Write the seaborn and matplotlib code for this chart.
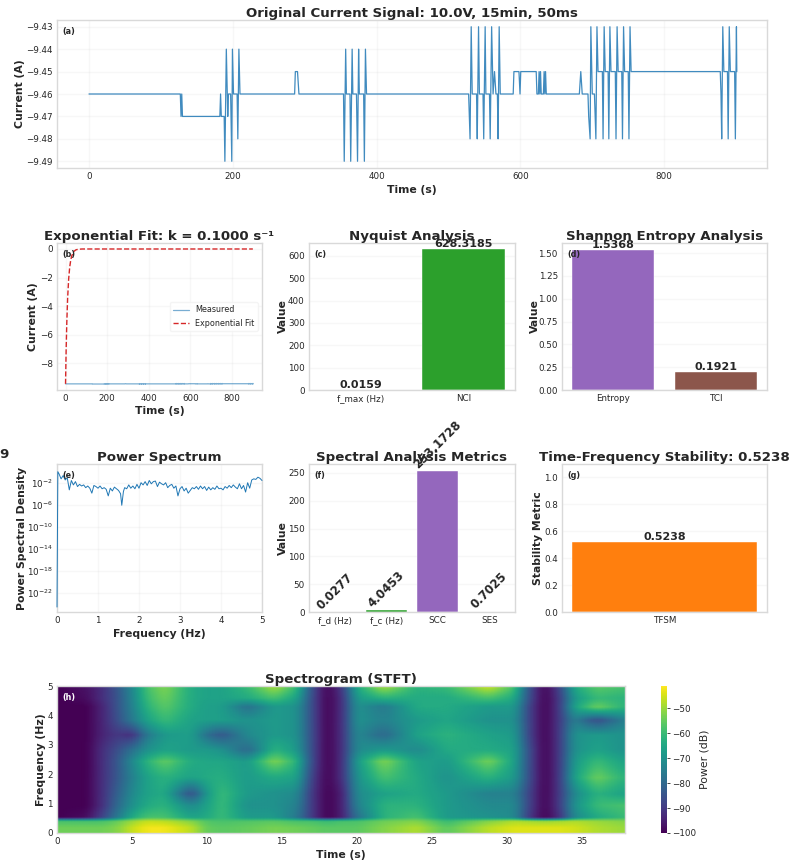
import numpy as np
import matplotlib
matplotlib.use('Agg')
import matplotlib.pyplot as plt
import seaborn as sns

# Signal, same grouping in both lists
time_s = [0, 127, 128, 129, 130, 182, 183, 184, 188, 189, 191, 193, 194, 197, 198.6, 199.5, 201, 206, 207, 208.5, 210,
          286, 287, 290, 292,
          354, 355, 357, 358, 363, 364, 366, 367, 372, 373.5, 375, 376, 382, 383, 384.5, 386,
          528, 530, 531.6, 533, 539, 540, 541.8, 543, 548, 549, 551, 552, 557, 558, 560, 562, 564, 566, 568, 569, 570.5, 572,
          590, 591, 598, 599.5, 600.5, 622, 623, 625, 626, 627, 628, 629, 632, 633, 634, 635, 636,
          682, 684, 686, 694, 695, 697, 698, 700, 703, 705, 706.5, 708,
          714, 715, 716.5, 718, 722, 723, 724.5, 726, 732, 733, 734.5, 736, 741, 742, 743.5, 745, 750, 751, 752.5, 754,
          878, 879, 880, 881.5, 883, 888, 889, 890.5, 892, 898, 899, 900.5, 901]
current_a = [-9.46, -9.46, -9.47, -9.46, -9.47, -9.47, -9.46, -9.47, -9.47, -9.49, -9.44, -9.47, -9.46, -9.46, -9.49, -9.44, -9.46, -9.46, -9.48, -9.44, -9.46,
             -9.46, -9.45, -9.45, -9.46,
             -9.46, -9.49, -9.44, -9.46, -9.46, -9.49, -9.44, -9.46, -9.46, -9.49, -9.44, -9.46, -9.46, -9.49, -9.44, -9.46,
             -9.46, -9.48, -9.43, -9.46, -9.46, -9.48, -9.43, -9.46, -9.46, -9.48, -9.43, -9.46, -9.46, -9.48, -9.43, -9.46, -9.45, -9.46, -9.46, -9.48, -9.43, -9.46,
             -9.46, -9.45, -9.45, -9.46, -9.45, -9.45, -9.46, -9.46, -9.45, -9.46, -9.45, -9.46, -9.46, -9.45, -9.46, -9.45, -9.46,
             -9.46, -9.45, -9.46, -9.46, -9.47, -9.48, -9.43, -9.46, -9.46, -9.48, -9.43, -9.45,
             -9.45, -9.48, -9.43, -9.45, -9.45, -9.48, -9.43, -9.45, -9.45, -9.48, -9.43, -9.45, -9.45, -9.48, -9.43, -9.45, -9.45, -9.48, -9.43, -9.45,
             -9.45, -9.46, -9.48, -9.43, -9.45, -9.45, -9.48, -9.43, -9.45, -9.45, -9.48, -9.43, -9.45]

# Exponential fit, panel (b)
fit_time = [0, 3, 6, 10, 15, 20, 25, 30, 40, 50, 60, 80, 100, 900]
fit_current = [-9.46, -7.0, -5.2, -3.48, -2.11, -1.28, -0.78, -0.47, -0.17, -0.06, -0.02, 0, 0, 0]

# Bars
nyquist_labels = ['f_max (Hz)', 'NCI']
nyquist_values = [0.0159, 628.3185]
entropy_labels = ['Entropy', 'TCI']
entropy_values = [1.5368, 0.1921]
spectral_labels = ['f_d (Hz)', 'f_c (Hz)', 'SCC', 'SES']
spectral_values = [0.0277, 4.0453, 253.1728, 0.7025]
stability_labels = ['TFSM']
stability_values = [0.5238]

# Power spectrum, panel (e), log10 of the density
psd_freq = [0, 0.02, 0.05, 0.1, 0.15, 0.2, 0.25, 0.3, 0.35, 0.4, 0.45, 0.5, 0.55, 0.6, 0.65, 0.7, 0.75, 0.8, 0.85, 0.9,
            0.95, 1.0, 1.05, 1.1, 1.15, 1.2, 1.25, 1.3, 1.35, 1.4, 1.45, 1.5, 1.55, 1.58, 1.62, 1.65, 1.7, 1.75, 1.8, 1.85,
            1.9, 1.95, 2.0, 2.05, 2.1, 2.15, 2.2, 2.25, 2.3, 2.35, 2.4, 2.45, 2.5, 2.55, 2.6, 2.65, 2.7, 2.75, 2.8, 2.85,
            2.9, 2.95, 3.0, 3.05, 3.1, 3.15, 3.2, 3.25, 3.3, 3.35, 3.4, 3.45, 3.5, 3.55, 3.6, 3.65, 3.7, 3.75, 3.8, 3.85,
            3.9, 3.95, 4.0, 4.05, 4.1, 4.15, 4.2, 4.25, 4.3, 4.35, 4.4, 4.45, 4.5, 4.55, 4.6, 4.65, 4.7, 4.75, 4.8, 4.85,
            4.9, 4.95, 5.0]
psd_log = [-24.5, 0.1, -0.3, -1.2, -0.6, -1.4, -1.0, -3.2, -1.5, -2.3, -1.7, -2.6, -2.2, -2.5, -2.3, -2.8, -2.5, -2.9,
           -3.8, -2.4, -2.6, -2.9, -2.5, -3.0, -2.8, -3.1, -4.3, -2.9, -3.4, -2.7, -3.0, -3.3, -3.9, -6.0, -3.5, -2.8,
           -3.0, -2.3, -2.9, -2.5, -3.0, -2.2, -2.9, -1.9, -2.3, -1.7, -2.4, -1.5, -2.1, -1.7, -1.6, -2.6, -1.8, -2.1,
           -2.3, -1.9, -2.8, -2.4, -2.2, -2.9, -2.5, -4.3, -3.0, -2.6, -3.4, -2.9, -3.8, -3.3, -2.8, -3.0, -2.6, -3.1,
           -2.5, -3.0, -2.6, -3.3, -2.7, -3.2, -2.8, -3.1, -2.5, -3.0, -2.9, -3.2, -2.6, -2.9, -2.4, -2.8, -2.3, -2.7,
           -3.0, -2.1, -3.0, -2.4, -3.6, -1.9, -2.9, -1.4, -1.2, -1.3, -0.9, -1.1, -1.5]

# Spectrogram grid, dB
stft_time = [0, 2, 3, 4, 5, 6, 7.2, 9, 10, 11, 12.7, 14.5, 16, 17, 18, 19, 20, 21.8, 24, 26, 28.8, 30.5, 31.5, 32.5, 33.5,
             34.5, 36, 37.87]
stft_freq = [0, 0.2, 0.42, 0.55, 0.95, 1.35, 1.9, 2.45, 2.85, 3.35, 3.85, 4.3, 4.6, 5]
power_0 = [-54, -54, -54, -52, -46, -42, -42, -47, -55, -56, -55, -53, -54, -55, -56, -56, -56, -52, -48, -56, -47, -44,
           -44, -44, -44, -45, -48, -50]
power_1 = [-54, -54, -54, -52, -46, -42, -42, -47, -55, -56, -55, -53, -54, -55, -56, -56, -56, -52, -48, -56, -47, -44,
           -44, -44, -44, -45, -48, -50]
power_2 = [-58, -58, -58, -55, -50, -46, -47, -52, -57, -58, -57, -56, -58, -58, -60, -58, -58, -54, -52, -60, -52, -48,
           -49, -50, -49, -48, -50, -52]
power_3 = [-100, -98, -88, -76, -64, -58, -58, -66, -64, -60, -68, -68, -76, -90, -100, -95, -78, -62, -58, -68, -70, -72,
           -90, -100, -92, -72, -64, -60]
power_4 = [-100, -100, -92, -80, -70, -64, -62, -72, -66, -60, -70, -70, -74, -90, -100, -95, -74, -62, -62, -68, -72, -72,
           -88, -100, -90, -70, -60, -58]
power_5 = [-100, -100, -92, -82, -72, -66, -64, -86, -68, -60, -68, -70, -72, -90, -100, -95, -72, -66, -64, -68, -74, -74,
           -88, -100, -90, -72, -62, -66]
power_6 = [-100, -100, -92, -84, -74, -66, -62, -66, -64, -63, -68, -64, -66, -88, -100, -92, -70, -58, -64, -70, -62, -68,
           -86, -100, -90, -66, -54, -62]
power_7 = [-100, -100, -92, -84, -72, -62, -55, -64, -65, -65, -68, -52, -62, -86, -100, -92, -68, -52, -66, -68, -53, -66,
           -86, -100, -90, -68, -60, -66]
power_8 = [-100, -100, -92, -86, -78, -70, -66, -68, -68, -70, -80, -62, -68, -86, -100, -92, -72, -68, -72, -64, -64, -66,
           -86, -100, -90, -70, -66, -70]
power_9 = [-100, -100, -94, -90, -92, -76, -68, -67, -78, -84, -72, -68, -70, -86, -100, -92, -72, -80, -66, -62, -66, -68,
           -88, -100, -90, -70, -68, -70]
power_10 = [-100, -100, -94, -86, -76, -66, -60, -66, -67, -67, -70, -68, -70, -86, -100, -92, -70, -74, -68, -65, -70, -70,
            -88, -100, -90, -74, -86, -74]
power_11 = [-100, -100, -94, -85, -74, -62, -56, -64, -67, -67, -78, -68, -70, -86, -100, -92, -70, -76, -64, -64, -68, -68,
            -88, -100, -90, -66, -54, -62]
power_12 = [-100, -98, -92, -85, -73, -60, -54, -64, -66, -66, -64, -58, -66, -86, -100, -92, -68, -62, -64, -64, -58, -64,
            -86, -100, -90, -68, -60, -62]
power_13 = [-100, -97, -92, -84, -72, -58, -52, -64, -66, -66, -60, -48, -60, -85, -100, -90, -64, -48, -62, -60, -45, -58,
            -85, -100, -88, -64, -56, -58]

sns.set_theme(style='whitegrid', font='DejaVu Sans')
plt.rcParams.update({'grid.alpha': 0.15, 'axes.edgecolor': '0.85', 'axes.linewidth': 1.0,
                     'xtick.labelsize': 6.3, 'ytick.labelsize': 6.3, 'xtick.major.pad': 3, 'ytick.major.pad': 3,
                     'xtick.major.size': 0, 'ytick.major.size': 0, 'text.color': '0.15'})

W, H = 804, 867
fig = plt.figure(figsize=(W / 100, H / 100), dpi=100)


def make_axes(left, right, top, bottom):
    return fig.add_axes([left / W, 1 - bottom / H, (right - left) / W, (bottom - top) / H])


def dress(ax, title, xlabel, ylabel, tag, tag_color='0.15', xpad=2, ypad=2):
    ax.set_title(title, fontsize=9.6, fontweight='bold', pad=2, color='0.15')
    ax.set_xlabel(xlabel, fontsize=7.8, fontweight='bold', labelpad=xpad)
    ax.set_ylabel(ylabel, fontsize=7.8, fontweight='bold', labelpad=ypad)
    ax.annotate(tag, (0, 1), xycoords='axes fraction', xytext=(4, -8), textcoords='offset points', fontsize=5.8,
                fontweight='bold', color=tag_color, va='center')


def bars(ax, labels, values, colors, rotation=0, size=8):
    sns.barplot(x=labels, y=values, hue=labels, palette=colors, saturation=1, legend=False, ax=ax, width=0.8,
                edgecolor='white', linewidth=0.3)
    for c in ax.containers:
        ax.bar_label(c, fmt='%.4f', fontsize=size, fontweight='bold', rotation=rotation, padding=0, color='0.15')


# (a) original signal
ax = make_axes(57, 767, 20, 168)
sns.lineplot(x=time_s, y=current_a, estimator=None, sort=False, lw=0.9, alpha=0.85, color='tab:blue', ax=ax)
ax.set_xlim(-44.5, 943)
ax.set_ylim(-9.493, -9.427)
ax.set_xticks([0, 200, 400, 600, 800])
ax.set_yticks([-9.49, -9.48, -9.47, -9.46, -9.45, -9.44, -9.43])
dress(ax, 'Original Current Signal: 10.0V, 15min, 50ms', 'Time (s)', 'Current (A)', '(a)', xpad=3, ypad=1)

# (b) exponential fit
ax = make_axes(57, 262, 243, 390)
sns.lineplot(x=time_s, y=current_a, estimator=None, sort=False, lw=0.9, alpha=0.6, color='tab:blue', ax=ax,
             label='Measured')
sns.lineplot(x=fit_time, y=fit_current, estimator=None, sort=False, lw=1, color='tab:red', linestyle='--', ax=ax,
             label='Exponential Fit')
ax.set_xlim(-41, 944)
ax.set_ylim(-9.89, 0.42)
ax.set_xticks([0, 200, 400, 600, 800])
ax.set_yticks([0, -2, -4, -6, -8])
ax.legend(loc='center right', fontsize=5.8, framealpha=0.8, edgecolor='0.95')
dress(ax, 'Exponential Fit: k = 0.1000 s⁻¹', 'Time (s)', 'Current (A)', '(b)', xpad=2, ypad=1)

# (c) nyquist
ax = make_axes(309, 515, 243, 390)
bars(ax, nyquist_labels, nyquist_values, ['tab:blue', 'tab:green'])
ax.set_ylim(0, 657)
dress(ax, 'Nyquist Analysis', '', 'Value', '(c)', ypad=0)

# (d) entropy
ax = make_axes(562, 767, 243, 390)
bars(ax, entropy_labels, entropy_values, ['tab:purple', 'tab:brown'])
ax.set_ylim(0, 1.61)
ax.set_yticks([0, 0.25, 0.5, 0.75, 1.0, 1.25, 1.5])
dress(ax, 'Shannon Entropy Analysis', '', 'Value', '(d)', ypad=-1)

# (e) power spectrum
ax = make_axes(57, 262, 464, 612)
psd_line = sns.lineplot(x=psd_freq, y=10.0 ** np.array(psd_log), estimator=None, sort=False, lw=0.7, color='tab:blue', ax=ax)
psd_line.get_lines()[0].set_clip_on(False)
psd_line.get_lines()[0].set_zorder(3)
ax.set_yscale('log')
ax.set_xlim(0, 5)
ax.set_ylim(10.0 ** -25.4, 10.0 ** 1.5)
ax.set_yticks([1e-2, 1e-6, 1e-10, 1e-14, 1e-18, 1e-22])
ax.minorticks_off()
dress(ax, 'Power Spectrum', 'Frequency (Hz)', 'Power Spectral Density', '(e)', xpad=3, ypad=0)

# (f) spectral metrics
ax = make_axes(309, 515, 464, 612)
bars(ax, spectral_labels, spectral_values, ['tab:blue', 'tab:green', 'tab:purple', 'tab:brown'], rotation=45, size=8.5)
ax.set_ylim(0, 266)
dress(ax, 'Spectral Analysis Metrics', '', 'Value', '(f)', ypad=0)

# (g) stability
ax = make_axes(562, 767, 464, 612)
bars(ax, stability_labels, stability_values, ['tab:orange'])
ax.set_xlim(-0.444, 0.444)
ax.set_ylim(0, 1.1)
dress(ax, 'Time-Frequency Stability: 0.5238', '', 'Stability Metric', '(g)', ypad=1)

# (h) spectrogram, the read-off grid resampled so it looks as soft as the original
ax = make_axes(57, 625, 686, 833)
stft_power = np.array([power_0, power_1, power_2, power_3, power_4, power_5, power_6, power_7, power_8, power_9,
                       power_10, power_11, power_12, power_13], dtype=float)
fine_t = np.linspace(0, 37.87, 380)
fine_f = np.linspace(0, 5, 150)
by_time = np.array([np.interp(fine_t, stft_time, row) for row in stft_power])
fine_power = np.array([np.interp(fine_f, stft_freq, col) for col in by_time.T]).T
box = np.ones(9) / 9
fine_power = np.array([np.convolve(np.pad(row, 4, mode='edge'), box, mode='valid') for row in fine_power])
mesh = ax.pcolormesh(fine_t, fine_f, fine_power, shading='gouraud', cmap='viridis', vmin=-100, vmax=-41)
ax.grid(False)
ax.set_xlim(0, 37.87)
ax.set_ylim(0, 5)
dress(ax, 'Spectrogram (STFT)', 'Time (s)', 'Frequency (Hz)', '(h)', tag_color='white', xpad=3, ypad=1)
cax = make_axes(661, 667, 686, 833)
cbar = fig.colorbar(mesh, cax=cax)
cbar.set_ticks([-50, -60, -70, -80, -90, -100])
cbar.set_label('Power (dB)', fontsize=7.8, labelpad=2)
cbar.outline.set_visible(False)
cbar.ax.tick_params(labelsize=6.3, length=2, width=0.6, pad=2)

# clipped leftover at the left edge
fig.text(-0.001, 1 - 455 / H, '9', fontsize=9.6, fontweight='bold', color='0.15', va='center')

fig.savefig('out.png', dpi=100)
